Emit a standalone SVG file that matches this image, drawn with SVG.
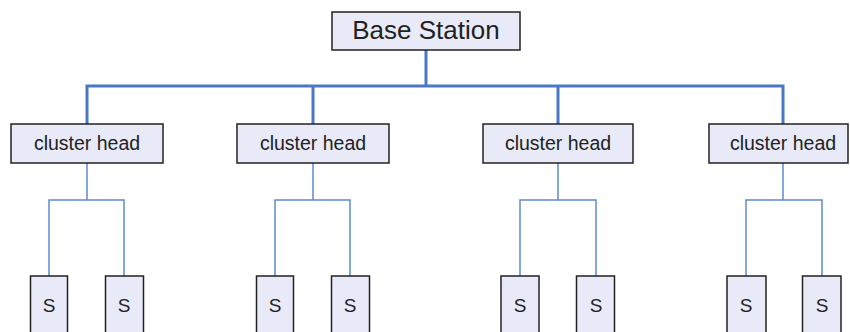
<svg xmlns="http://www.w3.org/2000/svg" width="850" height="332" viewBox="0 0 850 332">
  <style>
    .box { fill: #e8ebf7; stroke: #222; stroke-width: 1.5; }
    .lbl { font-family: "Liberation Sans", Arial, sans-serif; fill: #222; text-anchor: middle; dominant-baseline: central; }
    .head { font-size: 19.5px; }
    .node { font-size: 19px; }
    .bus { fill: none; stroke: #4a78c6; stroke-width: 3; }
    .link { fill: none; stroke: #5f8ad0; stroke-width: 1.5; }
  </style>
  <rect width="850" height="332" fill="#fff"/>

  <g id="connectors">
    <!-- base station to cluster heads -->
    <path class="bus" d="M426 50 V86 M87 124 V86 H783 V124 M313 86 V124 M558 86 V124"/>
    <!-- cluster heads to sensors -->
    <path class="link" d="M87 163 V200 M49 276 V200 H124 V276"/>
    <path class="link" d="M313 163 V200 M275 276 V200 H350 V276"/>
    <path class="link" d="M558 163 V200 M520 276 V200 H596 V276"/>
    <path class="link" d="M783 163 V200 M746 276 V200 H822 V276"/>
  </g>

  <g id="base-station">
    <rect class="box" x="332" y="12" width="188" height="38"/>
    <text class="lbl" x="426" y="30" font-size="26">Base Station</text>
  </g>

  <g id="cluster-head-1">
    <rect class="box" x="11" y="124" width="152" height="39"/>
    <text class="lbl head" x="87" y="143">cluster head</text>
  </g>
  <g id="cluster-head-2">
    <rect class="box" x="237" y="124" width="152" height="39"/>
    <text class="lbl head" x="313" y="143">cluster head</text>
  </g>
  <g id="cluster-head-3">
    <rect class="box" x="483" y="124" width="150" height="39"/>
    <text class="lbl head" x="558" y="143">cluster head</text>
  </g>
  <g id="cluster-head-4">
    <rect class="box" x="709" y="124" width="139" height="39"/>
    <text class="lbl head" x="783" y="143">cluster head</text>
  </g>

  <g id="sensor-1a"><rect class="box" x="30.5" y="276" width="37" height="60"/><text class="lbl node" x="49" y="305">S</text></g>
  <g id="sensor-1b"><rect class="box" x="105.5" y="276" width="38" height="60"/><text class="lbl node" x="124" y="305">S</text></g>
  <g id="sensor-2a"><rect class="box" x="256.5" y="276" width="37" height="60"/><text class="lbl node" x="275" y="305">S</text></g>
  <g id="sensor-2b"><rect class="box" x="331.5" y="276" width="38" height="60"/><text class="lbl node" x="350" y="305">S</text></g>
  <g id="sensor-3a"><rect class="box" x="501" y="276" width="38" height="60"/><text class="lbl node" x="520" y="305">S</text></g>
  <g id="sensor-3b"><rect class="box" x="576.5" y="276" width="38" height="60"/><text class="lbl node" x="596" y="305">S</text></g>
  <g id="sensor-4a"><rect class="box" x="727" y="276" width="39" height="60"/><text class="lbl node" x="746" y="305">S</text></g>
  <g id="sensor-4b"><rect class="box" x="802.5" y="276" width="38.5" height="60"/><text class="lbl node" x="822" y="305">S</text></g>
</svg>
